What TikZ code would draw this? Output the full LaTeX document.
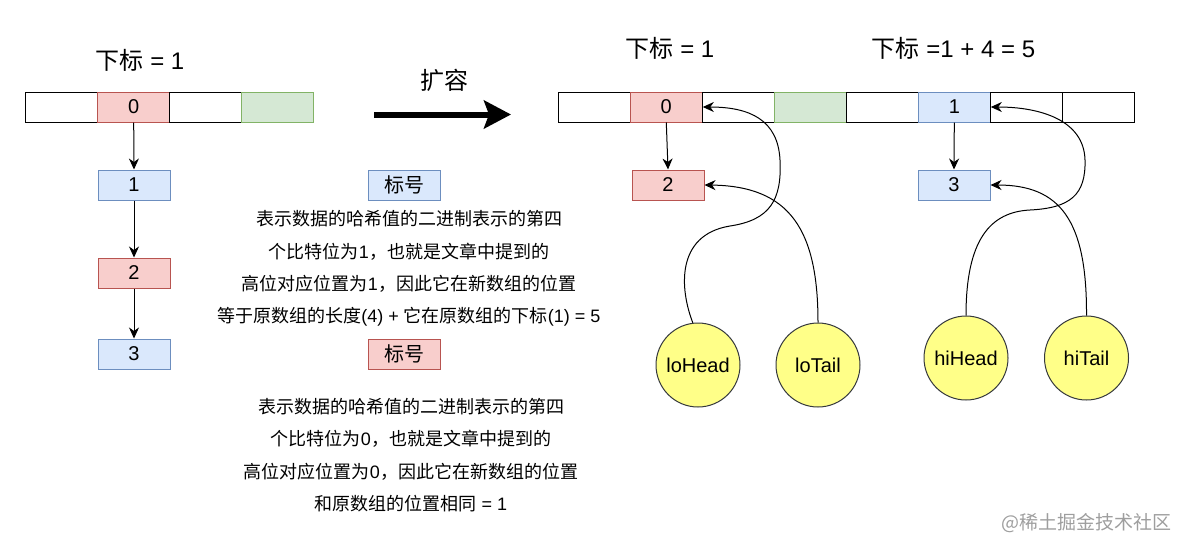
\documentclass[tikz,border=0pt]{standalone}
\usepackage{fontspec}
\setmainfont{Liberation Sans}
\newfontfamily\cjk{Noto Sans CJK SC}
\newcommand{\zh}[1]{{\cjk #1}}
\usepackage{tikz}
\usetikzlibrary{arrows.meta}

\definecolor{redfill}{HTML}{F8CECC}
\definecolor{redline}{HTML}{B85450}
\definecolor{bluefill}{HTML}{DAE8FC}
\definecolor{blueline}{HTML}{6C8EBF}
\definecolor{greenfill}{HTML}{D5E8D4}
\definecolor{greenline}{HTML}{82B366}
\definecolor{ptrfill}{HTML}{FFFF88}
\definecolor{ptrline}{HTML}{36393D}

\begin{document}
\begin{tikzpicture}[x=1pt, y=-1pt, line width=1pt,
 >={Stealth[length=11pt,width=10pt,inset=3.5pt]},
 cell/.style={draw, minimum width=72pt, minimum height=30pt, inner sep=0pt,
   font=\fontsize{20}{24}\selectfont},
 plain/.style={cell},
 red/.style={cell, fill=redfill, draw=redline},
 blue/.style={cell, fill=bluefill, draw=blueline},
 green/.style={cell, fill=greenfill, draw=greenline},
 ptr/.style={circle, draw=ptrline, fill=ptrfill, minimum size=84pt, inner sep=0pt,
   font=\fontsize{20}{24}\selectfont},
 title/.style={font=\fontsize{24}{28}\selectfont},
 note/.style={align=center, font=\fontsize{18}{32.3}\selectfont}]

  \useasboundingbox (0,0) rectangle (1183,552);

  % old table
  \foreach \i/\c/\t in {0/plain/, 1/red/0, 2/plain/, 3/green/}
    \node[\c] (old\i) at (61.7+72*\i, 107) {\t};
  \node[title] (oldidx) at (140, 60) {\zh{下标} = 1};

  \node[blue] (e1) at (134, 185) {1};
  \node[red]  (e2) at (134, 273) {2};
  \node[blue] (e3) at (134, 354) {3};

  \draw[->] (old1.south) -- (e1.north);
  \draw[->] (e1.south) -- (e2.north);
  \draw[->] (e2.south) -- (e3.north);

  % legend
  \node[blue] (keyhi) at (404, 185) {\zh{标号}};
  \node[note] (texthi) at (409, 268.5) {\zh{表示数据的哈希值的二进制表示的第四}\\
    \zh{个比特位为}1\zh{，也就是文章中提到的}\\
    \zh{高位对应位置为}1\zh{，因此它在新数组的位置}\\
    \zh{等于原数组的长度}(4) + \zh{它在原数组的下标}(1) = 5};
  \node[red] (keylo) at (404, 354) {\zh{标号}};
  \node[note] (textlo) at (411, 455) {\zh{表示数据的哈希值的二进制表示的第四}\\
    \zh{个比特位为}0\zh{，也就是文章中提到的}\\
    \zh{高位对应位置为}0\zh{，因此它在新数组的位置}\\
    \zh{和原数组的位置相同} = 1};

  % resize
  \node[title] (grow) at (444, 80) {\zh{扩容}};
  \coordinate (growL) at (374, 114.5);
  \coordinate (growR) at (511, 114.5);
  \draw[line width=6pt, -{Stealth[length=27pt,width=28pt,inset=5pt]}] (growL) -- (growR);

  % new table
  \foreach \i/\c/\t in {0/plain/, 1/red/0, 2/plain/, 3/green/, 4/plain/, 5/blue/1, 6/plain/, 7/plain/}
    \node[\c] (new\i) at (594.3+72*\i, 107) {\t};
  \node[title] (loidx) at (670, 48) {\zh{下标} = 1};
  \node[title] (hiidx) at (953.5, 48) {\zh{下标} =1 + 4 = 5};

  \node[red]  (lo2) at (668, 185) {2};
  \node[blue] (hi3) at (954, 185) {3};
  \draw[->] (new1.south) -- (lo2.north);
  \draw[->] (new5.south) -- (hi3.north);

  \node[ptr] (loHead) at (698, 365) {loHead};
  \node[ptr] (loTail) at (818, 365) {loTail};
  \node[ptr] (hiHead) at (966, 358) {hiHead};
  \node[ptr] (hiTail) at (1086.5, 358) {hiTail};

  \draw[->] (loHead.97) .. controls (680,290) and (675,235) .. (730,226)
    .. controls (770,220) and (782,200) .. (780,160)
    .. controls (778,120) and (750,107) .. (new1.east);
  \draw[->] (loTail.north) .. controls (818,230) and (790,186) .. (lo2.east);
  \draw[->] (hiHead.north) .. controls (966,240) and (990,212) .. (1030,210)
    .. controls (1070,208) and (1086,195) .. (1085,160)
    .. controls (1084,120) and (1040,107) .. (new5.east);
  \draw[->] (hiTail.north) .. controls (1087,220) and (1060,185) .. (hi3.east);

  \node[font=\fontsize{19}{22}\selectfont, text=black!38] (mark) at (1086, 523) {\zh{@稀土掘金技术社区}};
\end{tikzpicture}
\end{document}
